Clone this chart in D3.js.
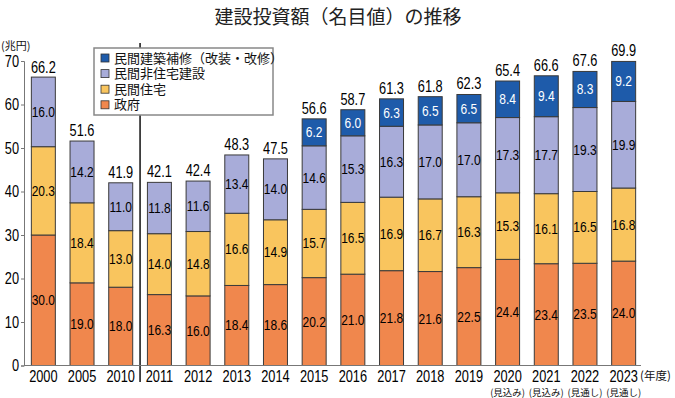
<!DOCTYPE html>
<html>
<head>
<meta charset="utf-8">
<script src="https://cdn.jsdelivr.net/npm/d3@7"></script>
<style>
  body { margin: 0; background: #fff; }
  svg { display: block; }
  .num { font-family: "Liberation Sans", Arial, sans-serif; }
  .jp { font-family: "Noto Sans CJK JP", sans-serif; }
</style>
</head>
<body>
<svg id="chart" width="675" height="398"></svg>
<script>
const years = ["2000", "2005", "2010", "2011", "2012", "2013", "2014", "2015",
               "2016", "2017", "2018", "2019", "2020", "2021", "2022", "2023"];
const notes = ["", "", "", "", "", "", "", "", "", "", "", "",
               "(見込み)", "(見込み)", "(見通し)", "(見通し)"];
const government = [30.0, 19.0, 18.0, 16.3, 16.0, 18.4, 18.6, 20.2, 21.0, 21.8, 21.6, 22.5, 24.4, 23.4, 23.5, 24.0];
const housing = [20.3, 18.4, 13.0, 14.0, 14.8, 16.6, 14.9, 15.7, 16.5, 16.9, 16.7, 16.3, 15.3, 16.1, 16.5, 16.8];
const nonHousing = [16.0, 14.2, 11.0, 11.8, 11.6, 13.4, 14.0, 14.6, 15.3, 16.3, 17.0, 17.0, 17.3, 17.7, 19.3, 19.9];
const repair = [0, 0, 0, 0, 0, 0, 0, 6.2, 6.0, 6.3, 6.5, 6.5, 8.4, 9.4, 8.3, 9.2];
const totals = [66.2, 51.6, 41.9, 42.1, 42.4, 48.3, 47.5, 56.6, 58.7, 61.3, 61.8, 62.3, 65.4, 66.6, 67.6, 69.9];
const yTicks = [0, 10, 20, 30, 40, 50, 60, 70];

const seriesKeys = ["gov", "housing", "nonHousing", "repair"];
const seriesNames = {
  repair: "民間建築補修（改装・改修）",
  nonHousing: "民間非住宅建設",
  housing: "民間住宅",
  gov: "政府"
};
const colors = {gov: "#f0874d", housing: "#f9c55e", nonHousing: "#a8acd9", repair: "#1e5baa"};

const rows = years.map((y, i) => ({
  year: y, gov: government[i], housing: housing[i], nonHousing: nonHousing[i], repair: repair[i]
}));

const NARROW = 0.8;
const svg = d3.select("#chart");

const x = d3.scaleBand().domain(years).range([24, 643]).paddingInner(0.38).paddingOuter(0.19);
const y = d3.scaleLinear().domain([0, 70]).range([365.5, 61]);
const cx = yr => x(yr) + x.bandwidth() / 2;

// title
svg.append("text").attr("class", "jp")
  .attr("x", 338).attr("y", 24)
  .attr("text-anchor", "middle")
  .style("font-size", "19px").attr("fill", "#222")
  .text("建設投資額（名目値）の推移");

// period divider (behind legend)
const divX = (x("2010") + x.bandwidth() + x("2011")) / 2;
svg.append("line")
  .attr("x1", divX).attr("x2", divX)
  .attr("y1", 43).attr("y2", 382)
  .attr("stroke", "#111").attr("stroke-width", 1.5);

// stacked bars
const stack = d3.stack().keys(seriesKeys)(rows);
const layer = svg.append("g").selectAll("g")
  .data(stack).enter().append("g")
  .attr("fill", d => colors[d.key]);

layer.selectAll("rect")
  .data(d => d.filter(p => p[1] - p[0] > 0))
  .enter().append("rect")
  .attr("x", d => x(d.data.year))
  .attr("y", d => y(d[1]))
  .attr("width", x.bandwidth())
  .attr("height", d => y(d[0]) - y(d[1]))
  .attr("stroke", "#3a3a3a")
  .attr("stroke-width", 1);

// segment labels
stack.forEach(s => {
  svg.append("g").selectAll("text")
    .data(s.filter(p => p[1] - p[0] > 0))
    .enter().append("text").attr("class", "num")
    .attr("transform", d => `translate(${cx(d.data.year)},${(y(d[0]) + y(d[1])) / 2 + 5}) scale(${NARROW},1)`)
    .attr("text-anchor", "middle")
    .style("font-size", "15px")
    .attr("fill", s.key === "repair" ? "#fff" : "#000")
    .text(d => (d[1] - d[0]).toFixed(1));
});

// totals
svg.append("g").selectAll("text")
  .data(totals)
  .enter().append("text").attr("class", "num")
  .attr("transform", (d, i) => `translate(${cx(years[i])},${y(d) - 5}) scale(${NARROW},1)`)
  .attr("text-anchor", "middle")
  .style("font-size", "16px").attr("fill", "#000")
  .text(d => d.toFixed(1));

// y axis
const yAxis = svg.append("g")
  .attr("transform", "translate(24,0)")
  .call(d3.axisLeft(y).tickValues(yTicks).tickSize(3).tickPadding(4));
yAxis.select(".domain").attr("stroke", "#777");
yAxis.selectAll(".tick line").attr("stroke", "#777");
yAxis.selectAll(".tick text").attr("class", "num")
  .attr("x", null)
  .attr("transform", `translate(-5,0) scale(${NARROW},1)`)
  .style("font-size", "16px").attr("fill", "#000");

svg.append("text").attr("class", "jp")
  .attr("x", 1).attr("y", 50)
  .style("font-size", "11px").attr("fill", "#111")
  .text("(兆円)");

// x axis
const xAxis = svg.append("g")
  .attr("transform", `translate(0,${y(0)})`)
  .call(d3.axisBottom(x).tickSize(0).tickPadding(5).tickSizeOuter(0));
xAxis.select(".domain").attr("stroke", "#777").attr("d", "M24,0H641");
xAxis.selectAll(".tick text").attr("class", "num")
  .attr("transform", `scale(${NARROW},1)`)
  .style("font-size", "16px").attr("fill", "#000");

svg.append("g").selectAll("text")
  .data(notes.map((n, i) => ({n, year: years[i]})).filter(d => d.n))
  .enter().append("text").attr("class", "jp")
  .attr("x", d => cx(d.year))
  .attr("y", 396)
  .attr("text-anchor", "middle")
  .style("font-size", "9.5px").attr("fill", "#111")
  .text(d => d.n);

svg.append("text").attr("class", "jp")
  .attr("x", 640).attr("y", 380)
  .style("font-size", "11.5px").attr("fill", "#111")
  .text("(年度)");

// legend
const legend = svg.append("g").attr("transform", "translate(94,48)");
legend.append("rect")
  .attr("width", 179).attr("height", 67)
  .attr("fill", "#fff").attr("stroke", "#888").attr("stroke-width", 1.5);
const legendKeys = ["repair", "nonHousing", "housing", "gov"];
const item = legend.selectAll("g.item")
  .data(legendKeys).enter().append("g")
  .attr("transform", (d, i) => `translate(7,${6 + i * 15.6})`);
item.append("rect")
  .attr("width", 8).attr("height", 8)
  .attr("fill", d => colors[d]).attr("stroke", "#333").attr("stroke-width", 0.8);
item.append("text").attr("class", "jp")
  .attr("x", 13).attr("y", 8.5)
  .style("font-size", "13px").attr("fill", "#111")
  .text(d => seriesNames[d]);
</script>
</body>
</html>
